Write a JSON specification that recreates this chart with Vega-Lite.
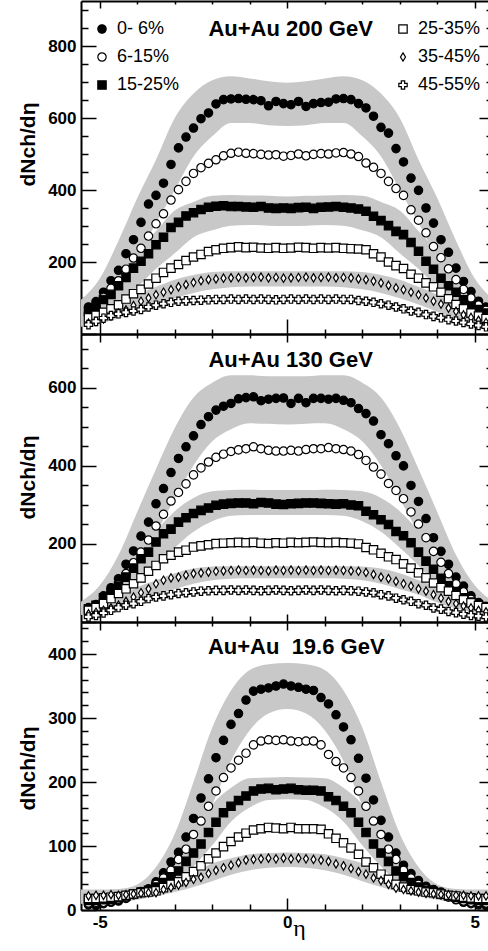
{
"$schema":"https://vega.github.io/schema/vega-lite/v6.json",
"background":"white",
"padding":{"left":17,"top":0,"right":0,"bottom":0},
"config":{"view":{"stroke":null},"font":"Liberation Sans"},
"datasets":{
"d200":[
{"c":"0- 6%","e":-5.3,"v":75},{"c":"0- 6%","e":-5.1,"v":90},{"c":"0- 6%","e":-4.9,"v":116},{"c":"0- 6%","e":-4.7,"v":148},{"c":"0- 6%","e":-4.5,"v":177},{"c":"0- 6%","e":-4.3,"v":223},{"c":"0- 6%","e":-4.1,"v":262},{"c":"0- 6%","e":-3.9,"v":310},{"c":"0- 6%","e":-3.7,"v":361},{"c":"0- 6%","e":-3.5,"v":385},{"c":"0- 6%","e":-3.3,"v":419},{"c":"0- 6%","e":-3.1,"v":471},{"c":"0- 6%","e":-2.9,"v":517},{"c":"0- 6%","e":-2.7,"v":547},{"c":"0- 6%","e":-2.5,"v":572},{"c":"0- 6%","e":-2.3,"v":598},{"c":"0- 6%","e":-2.1,"v":614},{"c":"0- 6%","e":-1.9,"v":639},{"c":"0- 6%","e":-1.7,"v":651},{"c":"0- 6%","e":-1.5,"v":653},{"c":"0- 6%","e":-1.3,"v":654},{"c":"0- 6%","e":-1.1,"v":652},{"c":"0- 6%","e":-0.9,"v":651},{"c":"0- 6%","e":-0.7,"v":648},{"c":"0- 6%","e":-0.5,"v":634},{"c":"0- 6%","e":-0.3,"v":646},{"c":"0- 6%","e":-0.1,"v":640},{"c":"0- 6%","e":0.1,"v":637},{"c":"0- 6%","e":0.3,"v":646},{"c":"0- 6%","e":0.5,"v":632},{"c":"0- 6%","e":0.7,"v":640},{"c":"0- 6%","e":0.9,"v":643},{"c":"0- 6%","e":1.1,"v":644},{"c":"0- 6%","e":1.3,"v":653},{"c":"0- 6%","e":1.5,"v":654},{"c":"0- 6%","e":1.7,"v":651},{"c":"0- 6%","e":1.9,"v":640},{"c":"0- 6%","e":2.1,"v":628},{"c":"0- 6%","e":2.3,"v":605},{"c":"0- 6%","e":2.5,"v":574},{"c":"0- 6%","e":2.7,"v":558},{"c":"0- 6%","e":2.9,"v":515},{"c":"0- 6%","e":3.1,"v":478},{"c":"0- 6%","e":3.3,"v":433},{"c":"0- 6%","e":3.5,"v":399},{"c":"0- 6%","e":3.7,"v":350},{"c":"0- 6%","e":3.9,"v":308},{"c":"0- 6%","e":4.1,"v":262},{"c":"0- 6%","e":4.3,"v":227},{"c":"0- 6%","e":4.5,"v":183},{"c":"0- 6%","e":4.7,"v":146},{"c":"0- 6%","e":4.9,"v":118},{"c":"0- 6%","e":5.1,"v":91},{"c":"0- 6%","e":5.3,"v":75},
{"c":"6-15%","e":-5.3,"v":58},{"c":"6-15%","e":-5.1,"v":74},{"c":"6-15%","e":-4.9,"v":102},{"c":"6-15%","e":-4.7,"v":127},{"c":"6-15%","e":-4.5,"v":148},{"c":"6-15%","e":-4.3,"v":180},{"c":"6-15%","e":-4.1,"v":211},{"c":"6-15%","e":-3.9,"v":238},{"c":"6-15%","e":-3.7,"v":272},{"c":"6-15%","e":-3.5,"v":306},{"c":"6-15%","e":-3.3,"v":334},{"c":"6-15%","e":-3.1,"v":372},{"c":"6-15%","e":-2.9,"v":401},{"c":"6-15%","e":-2.7,"v":424},{"c":"6-15%","e":-2.5,"v":446},{"c":"6-15%","e":-2.3,"v":462},{"c":"6-15%","e":-2.1,"v":474},{"c":"6-15%","e":-1.9,"v":484},{"c":"6-15%","e":-1.7,"v":495},{"c":"6-15%","e":-1.5,"v":502},{"c":"6-15%","e":-1.3,"v":505},{"c":"6-15%","e":-1.1,"v":502},{"c":"6-15%","e":-0.9,"v":501},{"c":"6-15%","e":-0.7,"v":499},{"c":"6-15%","e":-0.5,"v":497},{"c":"6-15%","e":-0.3,"v":498},{"c":"6-15%","e":-0.1,"v":494},{"c":"6-15%","e":0.1,"v":496},{"c":"6-15%","e":0.3,"v":500},{"c":"6-15%","e":0.5,"v":495},{"c":"6-15%","e":0.7,"v":499},{"c":"6-15%","e":0.9,"v":501},{"c":"6-15%","e":1.1,"v":500},{"c":"6-15%","e":1.3,"v":503},{"c":"6-15%","e":1.5,"v":504},{"c":"6-15%","e":1.7,"v":500},{"c":"6-15%","e":1.9,"v":493},{"c":"6-15%","e":2.1,"v":475},{"c":"6-15%","e":2.3,"v":463},{"c":"6-15%","e":2.5,"v":446},{"c":"6-15%","e":2.7,"v":424},{"c":"6-15%","e":2.9,"v":404},{"c":"6-15%","e":3.1,"v":385},{"c":"6-15%","e":3.3,"v":345},{"c":"6-15%","e":3.5,"v":316},{"c":"6-15%","e":3.7,"v":281},{"c":"6-15%","e":3.9,"v":243},{"c":"6-15%","e":4.1,"v":212},{"c":"6-15%","e":4.3,"v":181},{"c":"6-15%","e":4.5,"v":151},{"c":"6-15%","e":4.7,"v":124},{"c":"6-15%","e":4.9,"v":100},{"c":"6-15%","e":5.1,"v":80},{"c":"6-15%","e":5.3,"v":66},
{"c":"15-25%","e":-5.3,"v":62},{"c":"15-25%","e":-5.1,"v":74},{"c":"15-25%","e":-4.9,"v":96},{"c":"15-25%","e":-4.7,"v":110},{"c":"15-25%","e":-4.5,"v":134},{"c":"15-25%","e":-4.3,"v":157},{"c":"15-25%","e":-4.1,"v":183},{"c":"15-25%","e":-3.9,"v":202},{"c":"15-25%","e":-3.7,"v":223},{"c":"15-25%","e":-3.5,"v":248},{"c":"15-25%","e":-3.3,"v":269},{"c":"15-25%","e":-3.1,"v":296},{"c":"15-25%","e":-2.9,"v":310},{"c":"15-25%","e":-2.7,"v":328},{"c":"15-25%","e":-2.5,"v":337},{"c":"15-25%","e":-2.3,"v":346},{"c":"15-25%","e":-2.1,"v":352},{"c":"15-25%","e":-1.9,"v":355},{"c":"15-25%","e":-1.7,"v":356},{"c":"15-25%","e":-1.5,"v":354},{"c":"15-25%","e":-1.3,"v":354},{"c":"15-25%","e":-1.1,"v":353},{"c":"15-25%","e":-0.9,"v":352},{"c":"15-25%","e":-0.7,"v":354},{"c":"15-25%","e":-0.5,"v":350},{"c":"15-25%","e":-0.3,"v":349},{"c":"15-25%","e":-0.1,"v":350},{"c":"15-25%","e":0.1,"v":349},{"c":"15-25%","e":0.3,"v":351},{"c":"15-25%","e":0.5,"v":352},{"c":"15-25%","e":0.7,"v":349},{"c":"15-25%","e":0.9,"v":352},{"c":"15-25%","e":1.1,"v":353},{"c":"15-25%","e":1.3,"v":354},{"c":"15-25%","e":1.5,"v":352},{"c":"15-25%","e":1.7,"v":350},{"c":"15-25%","e":1.9,"v":347},{"c":"15-25%","e":2.1,"v":341},{"c":"15-25%","e":2.3,"v":327},{"c":"15-25%","e":2.5,"v":315},{"c":"15-25%","e":2.7,"v":301},{"c":"15-25%","e":2.9,"v":285},{"c":"15-25%","e":3.1,"v":276},{"c":"15-25%","e":3.3,"v":254},{"c":"15-25%","e":3.5,"v":230},{"c":"15-25%","e":3.7,"v":202},{"c":"15-25%","e":3.9,"v":180},{"c":"15-25%","e":4.1,"v":155},{"c":"15-25%","e":4.3,"v":134},{"c":"15-25%","e":4.5,"v":116},{"c":"15-25%","e":4.7,"v":95},{"c":"15-25%","e":4.9,"v":77},{"c":"15-25%","e":5.1,"v":68},{"c":"15-25%","e":5.3,"v":58},
{"c":"25-35%","e":-5.3,"v":45},{"c":"25-35%","e":-5.1,"v":52},{"c":"25-35%","e":-4.9,"v":60},{"c":"25-35%","e":-4.7,"v":70},{"c":"25-35%","e":-4.5,"v":81},{"c":"25-35%","e":-4.3,"v":97},{"c":"25-35%","e":-4.1,"v":112},{"c":"25-35%","e":-3.9,"v":124},{"c":"25-35%","e":-3.7,"v":139},{"c":"25-35%","e":-3.5,"v":155},{"c":"25-35%","e":-3.3,"v":171},{"c":"25-35%","e":-3.1,"v":183},{"c":"25-35%","e":-2.9,"v":193},{"c":"25-35%","e":-2.7,"v":204},{"c":"25-35%","e":-2.5,"v":214},{"c":"25-35%","e":-2.3,"v":221},{"c":"25-35%","e":-2.1,"v":229},{"c":"25-35%","e":-1.9,"v":234},{"c":"25-35%","e":-1.7,"v":238},{"c":"25-35%","e":-1.5,"v":240},{"c":"25-35%","e":-1.3,"v":242},{"c":"25-35%","e":-1.1,"v":240},{"c":"25-35%","e":-0.9,"v":241},{"c":"25-35%","e":-0.7,"v":239},{"c":"25-35%","e":-0.5,"v":238},{"c":"25-35%","e":-0.3,"v":240},{"c":"25-35%","e":-0.1,"v":238},{"c":"25-35%","e":0.1,"v":239},{"c":"25-35%","e":0.3,"v":241},{"c":"25-35%","e":0.5,"v":240},{"c":"25-35%","e":0.7,"v":238},{"c":"25-35%","e":0.9,"v":240},{"c":"25-35%","e":1.1,"v":239},{"c":"25-35%","e":1.3,"v":240},{"c":"25-35%","e":1.5,"v":238},{"c":"25-35%","e":1.7,"v":237},{"c":"25-35%","e":1.9,"v":236},{"c":"25-35%","e":2.1,"v":234},{"c":"25-35%","e":2.3,"v":223},{"c":"25-35%","e":2.5,"v":214},{"c":"25-35%","e":2.7,"v":200},{"c":"25-35%","e":2.9,"v":190},{"c":"25-35%","e":3.1,"v":182},{"c":"25-35%","e":3.3,"v":166},{"c":"25-35%","e":3.5,"v":155},{"c":"25-35%","e":3.7,"v":142},{"c":"25-35%","e":3.9,"v":131},{"c":"25-35%","e":4.1,"v":116},{"c":"25-35%","e":4.3,"v":98},{"c":"25-35%","e":4.5,"v":82},{"c":"25-35%","e":4.7,"v":70},{"c":"25-35%","e":4.9,"v":58},{"c":"25-35%","e":5.1,"v":50},{"c":"25-35%","e":5.3,"v":43},
{"c":"35-45%","e":-5.3,"v":30},{"c":"35-45%","e":-5.1,"v":35},{"c":"35-45%","e":-4.9,"v":42},{"c":"35-45%","e":-4.7,"v":50},{"c":"35-45%","e":-4.5,"v":58},{"c":"35-45%","e":-4.3,"v":67},{"c":"35-45%","e":-4.1,"v":79},{"c":"35-45%","e":-3.9,"v":91},{"c":"35-45%","e":-3.7,"v":100},{"c":"35-45%","e":-3.5,"v":109},{"c":"35-45%","e":-3.3,"v":116},{"c":"35-45%","e":-3.1,"v":123},{"c":"35-45%","e":-2.9,"v":131},{"c":"35-45%","e":-2.7,"v":137},{"c":"35-45%","e":-2.5,"v":143},{"c":"35-45%","e":-2.3,"v":148},{"c":"35-45%","e":-2.1,"v":151},{"c":"35-45%","e":-1.9,"v":153},{"c":"35-45%","e":-1.7,"v":155},{"c":"35-45%","e":-1.5,"v":156},{"c":"35-45%","e":-1.3,"v":157},{"c":"35-45%","e":-1.1,"v":156},{"c":"35-45%","e":-0.9,"v":157},{"c":"35-45%","e":-0.7,"v":158},{"c":"35-45%","e":-0.5,"v":156},{"c":"35-45%","e":-0.3,"v":157},{"c":"35-45%","e":-0.1,"v":155},{"c":"35-45%","e":0.1,"v":156},{"c":"35-45%","e":0.3,"v":157},{"c":"35-45%","e":0.5,"v":158},{"c":"35-45%","e":0.7,"v":156},{"c":"35-45%","e":0.9,"v":157},{"c":"35-45%","e":1.1,"v":158},{"c":"35-45%","e":1.3,"v":156},{"c":"35-45%","e":1.5,"v":157},{"c":"35-45%","e":1.7,"v":156},{"c":"35-45%","e":1.9,"v":153},{"c":"35-45%","e":2.1,"v":151},{"c":"35-45%","e":2.3,"v":147},{"c":"35-45%","e":2.5,"v":142},{"c":"35-45%","e":2.7,"v":135},{"c":"35-45%","e":2.9,"v":128},{"c":"35-45%","e":3.1,"v":123},{"c":"35-45%","e":3.3,"v":116},{"c":"35-45%","e":3.5,"v":109},{"c":"35-45%","e":3.7,"v":100},{"c":"35-45%","e":3.9,"v":91},{"c":"35-45%","e":4.1,"v":83},{"c":"35-45%","e":4.3,"v":72},{"c":"35-45%","e":4.5,"v":63},{"c":"35-45%","e":4.7,"v":53},{"c":"35-45%","e":4.9,"v":46},{"c":"35-45%","e":5.1,"v":38},{"c":"35-45%","e":5.3,"v":32},
{"c":"45-55%","e":-5.3,"v":26},{"c":"45-55%","e":-5.1,"v":35},{"c":"45-55%","e":-4.9,"v":44},{"c":"45-55%","e":-4.7,"v":51},{"c":"45-55%","e":-4.5,"v":56},{"c":"45-55%","e":-4.3,"v":60},{"c":"45-55%","e":-4.1,"v":64},{"c":"45-55%","e":-3.9,"v":68},{"c":"45-55%","e":-3.7,"v":75},{"c":"45-55%","e":-3.5,"v":80},{"c":"45-55%","e":-3.3,"v":84},{"c":"45-55%","e":-3.1,"v":88},{"c":"45-55%","e":-2.9,"v":91},{"c":"45-55%","e":-2.7,"v":92},{"c":"45-55%","e":-2.5,"v":93},{"c":"45-55%","e":-2.3,"v":94},{"c":"45-55%","e":-2.1,"v":95},{"c":"45-55%","e":-1.9,"v":96},{"c":"45-55%","e":-1.7,"v":96},{"c":"45-55%","e":-1.5,"v":97},{"c":"45-55%","e":-1.3,"v":96},{"c":"45-55%","e":-1.1,"v":97},{"c":"45-55%","e":-0.9,"v":96},{"c":"45-55%","e":-0.7,"v":97},{"c":"45-55%","e":-0.5,"v":96},{"c":"45-55%","e":-0.3,"v":95},{"c":"45-55%","e":-0.1,"v":96},{"c":"45-55%","e":0.1,"v":97},{"c":"45-55%","e":0.3,"v":96},{"c":"45-55%","e":0.5,"v":97},{"c":"45-55%","e":0.7,"v":96},{"c":"45-55%","e":0.9,"v":97},{"c":"45-55%","e":1.1,"v":96},{"c":"45-55%","e":1.3,"v":97},{"c":"45-55%","e":1.5,"v":96},{"c":"45-55%","e":1.7,"v":96},{"c":"45-55%","e":1.9,"v":93},{"c":"45-55%","e":2.1,"v":91},{"c":"45-55%","e":2.3,"v":88},{"c":"45-55%","e":2.5,"v":84},{"c":"45-55%","e":2.7,"v":80},{"c":"45-55%","e":2.9,"v":75},{"c":"45-55%","e":3.1,"v":70},{"c":"45-55%","e":3.3,"v":64},{"c":"45-55%","e":3.5,"v":60},{"c":"45-55%","e":3.7,"v":54},{"c":"45-55%","e":3.9,"v":49},{"c":"45-55%","e":4.1,"v":45},{"c":"45-55%","e":4.3,"v":40},{"c":"45-55%","e":4.5,"v":36},{"c":"45-55%","e":4.7,"v":32},{"c":"45-55%","e":4.9,"v":28},{"c":"45-55%","e":5.1,"v":24},{"c":"45-55%","e":5.3,"v":20}
],
"d130":[
{"c":"0- 6%","e":-5.3,"v":37},{"c":"0- 6%","e":-5.1,"v":45},{"c":"0- 6%","e":-4.9,"v":67},{"c":"0- 6%","e":-4.7,"v":88},{"c":"0- 6%","e":-4.5,"v":111},{"c":"0- 6%","e":-4.3,"v":148},{"c":"0- 6%","e":-4.1,"v":182},{"c":"0- 6%","e":-3.9,"v":220},{"c":"0- 6%","e":-3.7,"v":256},{"c":"0- 6%","e":-3.5,"v":303},{"c":"0- 6%","e":-3.3,"v":342},{"c":"0- 6%","e":-3.1,"v":383},{"c":"0- 6%","e":-2.9,"v":419},{"c":"0- 6%","e":-2.7,"v":449},{"c":"0- 6%","e":-2.5,"v":477},{"c":"0- 6%","e":-2.3,"v":506},{"c":"0- 6%","e":-2.1,"v":526},{"c":"0- 6%","e":-1.9,"v":543},{"c":"0- 6%","e":-1.7,"v":553},{"c":"0- 6%","e":-1.5,"v":560},{"c":"0- 6%","e":-1.3,"v":572},{"c":"0- 6%","e":-1.1,"v":575},{"c":"0- 6%","e":-0.9,"v":577},{"c":"0- 6%","e":-0.7,"v":567},{"c":"0- 6%","e":-0.5,"v":571},{"c":"0- 6%","e":-0.3,"v":573},{"c":"0- 6%","e":-0.1,"v":574},{"c":"0- 6%","e":0.1,"v":560},{"c":"0- 6%","e":0.3,"v":573},{"c":"0- 6%","e":0.5,"v":562},{"c":"0- 6%","e":0.7,"v":573},{"c":"0- 6%","e":0.9,"v":573},{"c":"0- 6%","e":1.1,"v":571},{"c":"0- 6%","e":1.3,"v":573},{"c":"0- 6%","e":1.5,"v":568},{"c":"0- 6%","e":1.7,"v":562},{"c":"0- 6%","e":1.9,"v":547},{"c":"0- 6%","e":2.1,"v":534},{"c":"0- 6%","e":2.3,"v":515},{"c":"0- 6%","e":2.5,"v":480},{"c":"0- 6%","e":2.7,"v":457},{"c":"0- 6%","e":2.9,"v":426},{"c":"0- 6%","e":3.1,"v":400},{"c":"0- 6%","e":3.3,"v":350},{"c":"0- 6%","e":3.5,"v":309},{"c":"0- 6%","e":3.7,"v":265},{"c":"0- 6%","e":3.9,"v":216},{"c":"0- 6%","e":4.1,"v":181},{"c":"0- 6%","e":4.3,"v":148},{"c":"0- 6%","e":4.5,"v":115},{"c":"0- 6%","e":4.7,"v":92},{"c":"0- 6%","e":4.9,"v":67},{"c":"0- 6%","e":5.1,"v":50},{"c":"0- 6%","e":5.3,"v":40},
{"c":"6-15%","e":-5.3,"v":33},{"c":"6-15%","e":-5.1,"v":42},{"c":"6-15%","e":-4.9,"v":58},{"c":"6-15%","e":-4.7,"v":75},{"c":"6-15%","e":-4.5,"v":96},{"c":"6-15%","e":-4.3,"v":124},{"c":"6-15%","e":-4.1,"v":152},{"c":"6-15%","e":-3.9,"v":179},{"c":"6-15%","e":-3.7,"v":210},{"c":"6-15%","e":-3.5,"v":246},{"c":"6-15%","e":-3.3,"v":276},{"c":"6-15%","e":-3.1,"v":310},{"c":"6-15%","e":-2.9,"v":332},{"c":"6-15%","e":-2.7,"v":354},{"c":"6-15%","e":-2.5,"v":377},{"c":"6-15%","e":-2.3,"v":395},{"c":"6-15%","e":-2.1,"v":410},{"c":"6-15%","e":-1.9,"v":422},{"c":"6-15%","e":-1.7,"v":430},{"c":"6-15%","e":-1.5,"v":437},{"c":"6-15%","e":-1.3,"v":441},{"c":"6-15%","e":-1.1,"v":444},{"c":"6-15%","e":-0.9,"v":449},{"c":"6-15%","e":-0.7,"v":444},{"c":"6-15%","e":-0.5,"v":440},{"c":"6-15%","e":-0.3,"v":438},{"c":"6-15%","e":-0.1,"v":438},{"c":"6-15%","e":0.1,"v":440},{"c":"6-15%","e":0.3,"v":438},{"c":"6-15%","e":0.5,"v":442},{"c":"6-15%","e":0.7,"v":444},{"c":"6-15%","e":0.9,"v":444},{"c":"6-15%","e":1.1,"v":447},{"c":"6-15%","e":1.3,"v":444},{"c":"6-15%","e":1.5,"v":442},{"c":"6-15%","e":1.7,"v":438},{"c":"6-15%","e":1.9,"v":429},{"c":"6-15%","e":2.1,"v":414},{"c":"6-15%","e":2.3,"v":397},{"c":"6-15%","e":2.5,"v":379},{"c":"6-15%","e":2.7,"v":355},{"c":"6-15%","e":2.9,"v":337},{"c":"6-15%","e":3.1,"v":316},{"c":"6-15%","e":3.3,"v":282},{"c":"6-15%","e":3.5,"v":251},{"c":"6-15%","e":3.7,"v":216},{"c":"6-15%","e":3.9,"v":181},{"c":"6-15%","e":4.1,"v":153},{"c":"6-15%","e":4.3,"v":124},{"c":"6-15%","e":4.5,"v":98},{"c":"6-15%","e":4.7,"v":77},{"c":"6-15%","e":4.9,"v":58},{"c":"6-15%","e":5.1,"v":43},{"c":"6-15%","e":5.3,"v":35},
{"c":"15-25%","e":-5.3,"v":34},{"c":"15-25%","e":-5.1,"v":43},{"c":"15-25%","e":-4.9,"v":62},{"c":"15-25%","e":-4.7,"v":75},{"c":"15-25%","e":-4.5,"v":92},{"c":"15-25%","e":-4.3,"v":115},{"c":"15-25%","e":-4.1,"v":138},{"c":"15-25%","e":-3.9,"v":162},{"c":"15-25%","e":-3.7,"v":179},{"c":"15-25%","e":-3.5,"v":205},{"c":"15-25%","e":-3.3,"v":226},{"c":"15-25%","e":-3.1,"v":238},{"c":"15-25%","e":-2.9,"v":256},{"c":"15-25%","e":-2.7,"v":267},{"c":"15-25%","e":-2.5,"v":278},{"c":"15-25%","e":-2.3,"v":286},{"c":"15-25%","e":-2.1,"v":292},{"c":"15-25%","e":-1.9,"v":299},{"c":"15-25%","e":-1.7,"v":302},{"c":"15-25%","e":-1.5,"v":304},{"c":"15-25%","e":-1.3,"v":305},{"c":"15-25%","e":-1.1,"v":305},{"c":"15-25%","e":-0.9,"v":303},{"c":"15-25%","e":-0.7,"v":306},{"c":"15-25%","e":-0.5,"v":305},{"c":"15-25%","e":-0.3,"v":302},{"c":"15-25%","e":-0.1,"v":301},{"c":"15-25%","e":0.1,"v":303},{"c":"15-25%","e":0.3,"v":304},{"c":"15-25%","e":0.5,"v":305},{"c":"15-25%","e":0.7,"v":305},{"c":"15-25%","e":0.9,"v":304},{"c":"15-25%","e":1.1,"v":303},{"c":"15-25%","e":1.3,"v":302},{"c":"15-25%","e":1.5,"v":303},{"c":"15-25%","e":1.7,"v":300},{"c":"15-25%","e":1.9,"v":298},{"c":"15-25%","e":2.1,"v":284},{"c":"15-25%","e":2.3,"v":275},{"c":"15-25%","e":2.5,"v":262},{"c":"15-25%","e":2.7,"v":250},{"c":"15-25%","e":2.9,"v":232},{"c":"15-25%","e":3.1,"v":221},{"c":"15-25%","e":3.3,"v":203},{"c":"15-25%","e":3.5,"v":179},{"c":"15-25%","e":3.7,"v":156},{"c":"15-25%","e":3.9,"v":135},{"c":"15-25%","e":4.1,"v":112},{"c":"15-25%","e":4.3,"v":93},{"c":"15-25%","e":4.5,"v":78},{"c":"15-25%","e":4.7,"v":62},{"c":"15-25%","e":4.9,"v":51},{"c":"15-25%","e":5.1,"v":43},{"c":"15-25%","e":5.3,"v":38},
{"c":"25-35%","e":-5.3,"v":30},{"c":"25-35%","e":-5.1,"v":37},{"c":"25-35%","e":-4.9,"v":47},{"c":"25-35%","e":-4.7,"v":60},{"c":"25-35%","e":-4.5,"v":73},{"c":"25-35%","e":-4.3,"v":85},{"c":"25-35%","e":-4.1,"v":98},{"c":"25-35%","e":-3.9,"v":113},{"c":"25-35%","e":-3.7,"v":130},{"c":"25-35%","e":-3.5,"v":145},{"c":"25-35%","e":-3.3,"v":162},{"c":"25-35%","e":-3.1,"v":171},{"c":"25-35%","e":-2.9,"v":179},{"c":"25-35%","e":-2.7,"v":184},{"c":"25-35%","e":-2.5,"v":192},{"c":"25-35%","e":-2.3,"v":195},{"c":"25-35%","e":-2.1,"v":198},{"c":"25-35%","e":-1.9,"v":201},{"c":"25-35%","e":-1.7,"v":202},{"c":"25-35%","e":-1.5,"v":203},{"c":"25-35%","e":-1.3,"v":204},{"c":"25-35%","e":-1.1,"v":203},{"c":"25-35%","e":-0.9,"v":204},{"c":"25-35%","e":-0.7,"v":202},{"c":"25-35%","e":-0.5,"v":201},{"c":"25-35%","e":-0.3,"v":203},{"c":"25-35%","e":-0.1,"v":202},{"c":"25-35%","e":0.1,"v":204},{"c":"25-35%","e":0.3,"v":203},{"c":"25-35%","e":0.5,"v":204},{"c":"25-35%","e":0.7,"v":205},{"c":"25-35%","e":0.9,"v":204},{"c":"25-35%","e":1.1,"v":203},{"c":"25-35%","e":1.3,"v":204},{"c":"25-35%","e":1.5,"v":203},{"c":"25-35%","e":1.7,"v":202},{"c":"25-35%","e":1.9,"v":200},{"c":"25-35%","e":2.1,"v":191},{"c":"25-35%","e":2.3,"v":185},{"c":"25-35%","e":2.5,"v":176},{"c":"25-35%","e":2.7,"v":167},{"c":"25-35%","e":2.9,"v":160},{"c":"25-35%","e":3.1,"v":149},{"c":"25-35%","e":3.3,"v":138},{"c":"25-35%","e":3.5,"v":126},{"c":"25-35%","e":3.7,"v":113},{"c":"25-35%","e":3.9,"v":100},{"c":"25-35%","e":4.1,"v":88},{"c":"25-35%","e":4.3,"v":79},{"c":"25-35%","e":4.5,"v":68},{"c":"25-35%","e":4.7,"v":57},{"c":"25-35%","e":4.9,"v":49},{"c":"25-35%","e":5.1,"v":42},{"c":"25-35%","e":5.3,"v":37},
{"c":"35-45%","e":-5.3,"v":21},{"c":"35-45%","e":-5.1,"v":25},{"c":"35-45%","e":-4.9,"v":30},{"c":"35-45%","e":-4.7,"v":36},{"c":"35-45%","e":-4.5,"v":43},{"c":"35-45%","e":-4.3,"v":53},{"c":"35-45%","e":-4.1,"v":64},{"c":"35-45%","e":-3.9,"v":75},{"c":"35-45%","e":-3.7,"v":85},{"c":"35-45%","e":-3.5,"v":98},{"c":"35-45%","e":-3.3,"v":107},{"c":"35-45%","e":-3.1,"v":113},{"c":"35-45%","e":-2.9,"v":115},{"c":"35-45%","e":-2.7,"v":120},{"c":"35-45%","e":-2.5,"v":124},{"c":"35-45%","e":-2.3,"v":126},{"c":"35-45%","e":-2.1,"v":128},{"c":"35-45%","e":-1.9,"v":130},{"c":"35-45%","e":-1.7,"v":131},{"c":"35-45%","e":-1.5,"v":132},{"c":"35-45%","e":-1.3,"v":133},{"c":"35-45%","e":-1.1,"v":132},{"c":"35-45%","e":-0.9,"v":133},{"c":"35-45%","e":-0.7,"v":132},{"c":"35-45%","e":-0.5,"v":131},{"c":"35-45%","e":-0.3,"v":133},{"c":"35-45%","e":-0.1,"v":132},{"c":"35-45%","e":0.1,"v":133},{"c":"35-45%","e":0.3,"v":132},{"c":"35-45%","e":0.5,"v":133},{"c":"35-45%","e":0.7,"v":132},{"c":"35-45%","e":0.9,"v":133},{"c":"35-45%","e":1.1,"v":132},{"c":"35-45%","e":1.3,"v":133},{"c":"35-45%","e":1.5,"v":132},{"c":"35-45%","e":1.7,"v":131},{"c":"35-45%","e":1.9,"v":130},{"c":"35-45%","e":2.1,"v":127},{"c":"35-45%","e":2.3,"v":122},{"c":"35-45%","e":2.5,"v":115},{"c":"35-45%","e":2.7,"v":111},{"c":"35-45%","e":2.9,"v":104},{"c":"35-45%","e":3.1,"v":98},{"c":"35-45%","e":3.3,"v":92},{"c":"35-45%","e":3.5,"v":85},{"c":"35-45%","e":3.7,"v":79},{"c":"35-45%","e":3.9,"v":70},{"c":"35-45%","e":4.1,"v":61},{"c":"35-45%","e":4.3,"v":53},{"c":"35-45%","e":4.5,"v":47},{"c":"35-45%","e":4.7,"v":41},{"c":"35-45%","e":4.9,"v":36},{"c":"35-45%","e":5.1,"v":30},{"c":"35-45%","e":5.3,"v":26},
{"c":"45-55%","e":-5.3,"v":13},{"c":"45-55%","e":-5.1,"v":17},{"c":"45-55%","e":-4.9,"v":23},{"c":"45-55%","e":-4.7,"v":30},{"c":"45-55%","e":-4.5,"v":37},{"c":"45-55%","e":-4.3,"v":43},{"c":"45-55%","e":-4.1,"v":47},{"c":"45-55%","e":-3.9,"v":53},{"c":"45-55%","e":-3.7,"v":60},{"c":"45-55%","e":-3.5,"v":64},{"c":"45-55%","e":-3.3,"v":67},{"c":"45-55%","e":-3.1,"v":70},{"c":"45-55%","e":-2.9,"v":73},{"c":"45-55%","e":-2.7,"v":75},{"c":"45-55%","e":-2.5,"v":77},{"c":"45-55%","e":-2.3,"v":79},{"c":"45-55%","e":-2.1,"v":80},{"c":"45-55%","e":-1.9,"v":81},{"c":"45-55%","e":-1.7,"v":81},{"c":"45-55%","e":-1.5,"v":82},{"c":"45-55%","e":-1.3,"v":81},{"c":"45-55%","e":-1.1,"v":82},{"c":"45-55%","e":-0.9,"v":81},{"c":"45-55%","e":-0.7,"v":80},{"c":"45-55%","e":-0.5,"v":81},{"c":"45-55%","e":-0.3,"v":82},{"c":"45-55%","e":-0.1,"v":81},{"c":"45-55%","e":0.1,"v":80},{"c":"45-55%","e":0.3,"v":81},{"c":"45-55%","e":0.5,"v":82},{"c":"45-55%","e":0.7,"v":81},{"c":"45-55%","e":0.9,"v":82},{"c":"45-55%","e":1.1,"v":81},{"c":"45-55%","e":1.3,"v":80},{"c":"45-55%","e":1.5,"v":81},{"c":"45-55%","e":1.7,"v":80},{"c":"45-55%","e":1.9,"v":79},{"c":"45-55%","e":2.1,"v":77},{"c":"45-55%","e":2.3,"v":75},{"c":"45-55%","e":2.5,"v":70},{"c":"45-55%","e":2.7,"v":67},{"c":"45-55%","e":2.9,"v":61},{"c":"45-55%","e":3.1,"v":57},{"c":"45-55%","e":3.3,"v":53},{"c":"45-55%","e":3.5,"v":47},{"c":"45-55%","e":3.7,"v":43},{"c":"45-55%","e":3.9,"v":36},{"c":"45-55%","e":4.1,"v":33},{"c":"45-55%","e":4.3,"v":27},{"c":"45-55%","e":4.5,"v":24},{"c":"45-55%","e":4.7,"v":20},{"c":"45-55%","e":4.9,"v":17},{"c":"45-55%","e":5.1,"v":15},{"c":"45-55%","e":5.3,"v":13}
],
"d196":[
{"c":"0- 6%","e":-5.3,"v":8},{"c":"0- 6%","e":-5.1,"v":7},{"c":"0- 6%","e":-4.9,"v":10},{"c":"0- 6%","e":-4.7,"v":12},{"c":"0- 6%","e":-4.5,"v":14},{"c":"0- 6%","e":-4.3,"v":18},{"c":"0- 6%","e":-4.1,"v":24},{"c":"0- 6%","e":-3.9,"v":29},{"c":"0- 6%","e":-3.7,"v":33},{"c":"0- 6%","e":-3.5,"v":44},{"c":"0- 6%","e":-3.3,"v":58},{"c":"0- 6%","e":-3.1,"v":75},{"c":"0- 6%","e":-2.9,"v":90},{"c":"0- 6%","e":-2.7,"v":114},{"c":"0- 6%","e":-2.5,"v":143},{"c":"0- 6%","e":-2.3,"v":175},{"c":"0- 6%","e":-2.1,"v":205},{"c":"0- 6%","e":-1.9,"v":238},{"c":"0- 6%","e":-1.7,"v":265},{"c":"0- 6%","e":-1.5,"v":290},{"c":"0- 6%","e":-1.3,"v":307},{"c":"0- 6%","e":-1.1,"v":328},{"c":"0- 6%","e":-0.9,"v":342},{"c":"0- 6%","e":-0.7,"v":345},{"c":"0- 6%","e":-0.5,"v":347},{"c":"0- 6%","e":-0.3,"v":350},{"c":"0- 6%","e":-0.1,"v":353},{"c":"0- 6%","e":0.1,"v":350},{"c":"0- 6%","e":0.3,"v":348},{"c":"0- 6%","e":0.5,"v":345},{"c":"0- 6%","e":0.7,"v":343},{"c":"0- 6%","e":0.9,"v":332},{"c":"0- 6%","e":1.1,"v":322},{"c":"0- 6%","e":1.3,"v":305},{"c":"0- 6%","e":1.5,"v":286},{"c":"0- 6%","e":1.7,"v":266},{"c":"0- 6%","e":1.9,"v":237},{"c":"0- 6%","e":2.1,"v":206},{"c":"0- 6%","e":2.3,"v":172},{"c":"0- 6%","e":2.5,"v":140},{"c":"0- 6%","e":2.7,"v":114},{"c":"0- 6%","e":2.9,"v":89},{"c":"0- 6%","e":3.1,"v":70},{"c":"0- 6%","e":3.3,"v":57},{"c":"0- 6%","e":3.5,"v":46},{"c":"0- 6%","e":3.7,"v":37},{"c":"0- 6%","e":3.9,"v":32},{"c":"0- 6%","e":4.1,"v":28},{"c":"0- 6%","e":4.3,"v":22},{"c":"0- 6%","e":4.5,"v":16},{"c":"0- 6%","e":4.7,"v":12},{"c":"0- 6%","e":4.9,"v":10},{"c":"0- 6%","e":5.1,"v":8},{"c":"0- 6%","e":5.3,"v":7},
{"c":"6-15%","e":-5.3,"v":11},{"c":"6-15%","e":-5.1,"v":12},{"c":"6-15%","e":-4.9,"v":12},{"c":"6-15%","e":-4.7,"v":14},{"c":"6-15%","e":-4.5,"v":17},{"c":"6-15%","e":-4.3,"v":20},{"c":"6-15%","e":-4.1,"v":24},{"c":"6-15%","e":-3.9,"v":28},{"c":"6-15%","e":-3.7,"v":32},{"c":"6-15%","e":-3.5,"v":40},{"c":"6-15%","e":-3.3,"v":50},{"c":"6-15%","e":-3.1,"v":62},{"c":"6-15%","e":-2.9,"v":79},{"c":"6-15%","e":-2.7,"v":95},{"c":"6-15%","e":-2.5,"v":118},{"c":"6-15%","e":-2.3,"v":139},{"c":"6-15%","e":-2.1,"v":162},{"c":"6-15%","e":-1.9,"v":186},{"c":"6-15%","e":-1.7,"v":207},{"c":"6-15%","e":-1.5,"v":222},{"c":"6-15%","e":-1.3,"v":234},{"c":"6-15%","e":-1.1,"v":245},{"c":"6-15%","e":-0.9,"v":258},{"c":"6-15%","e":-0.7,"v":264},{"c":"6-15%","e":-0.5,"v":266},{"c":"6-15%","e":-0.3,"v":265},{"c":"6-15%","e":-0.1,"v":266},{"c":"6-15%","e":0.1,"v":264},{"c":"6-15%","e":0.3,"v":263},{"c":"6-15%","e":0.5,"v":264},{"c":"6-15%","e":0.7,"v":264},{"c":"6-15%","e":0.9,"v":258},{"c":"6-15%","e":1.1,"v":243},{"c":"6-15%","e":1.3,"v":232},{"c":"6-15%","e":1.5,"v":222},{"c":"6-15%","e":1.7,"v":207},{"c":"6-15%","e":1.9,"v":186},{"c":"6-15%","e":2.1,"v":162},{"c":"6-15%","e":2.3,"v":139},{"c":"6-15%","e":2.5,"v":118},{"c":"6-15%","e":2.7,"v":95},{"c":"6-15%","e":2.9,"v":79},{"c":"6-15%","e":3.1,"v":62},{"c":"6-15%","e":3.3,"v":50},{"c":"6-15%","e":3.5,"v":40},{"c":"6-15%","e":3.7,"v":33},{"c":"6-15%","e":3.9,"v":28},{"c":"6-15%","e":4.1,"v":24},{"c":"6-15%","e":4.3,"v":20},{"c":"6-15%","e":4.5,"v":17},{"c":"6-15%","e":4.7,"v":14},{"c":"6-15%","e":4.9,"v":12},{"c":"6-15%","e":5.1,"v":12},{"c":"6-15%","e":5.3,"v":11},
{"c":"15-25%","e":-5.3,"v":15},{"c":"15-25%","e":-5.1,"v":15},{"c":"15-25%","e":-4.9,"v":16},{"c":"15-25%","e":-4.7,"v":17},{"c":"15-25%","e":-4.5,"v":19},{"c":"15-25%","e":-4.3,"v":22},{"c":"15-25%","e":-4.1,"v":25},{"c":"15-25%","e":-3.9,"v":28},{"c":"15-25%","e":-3.7,"v":31},{"c":"15-25%","e":-3.5,"v":36},{"c":"15-25%","e":-3.3,"v":43},{"c":"15-25%","e":-3.1,"v":52},{"c":"15-25%","e":-2.9,"v":61},{"c":"15-25%","e":-2.7,"v":76},{"c":"15-25%","e":-2.5,"v":89},{"c":"15-25%","e":-2.3,"v":103},{"c":"15-25%","e":-2.1,"v":121},{"c":"15-25%","e":-1.9,"v":137},{"c":"15-25%","e":-1.7,"v":152},{"c":"15-25%","e":-1.5,"v":162},{"c":"15-25%","e":-1.3,"v":171},{"c":"15-25%","e":-1.1,"v":178},{"c":"15-25%","e":-0.9,"v":186},{"c":"15-25%","e":-0.7,"v":189},{"c":"15-25%","e":-0.5,"v":190},{"c":"15-25%","e":-0.3,"v":188},{"c":"15-25%","e":-0.1,"v":189},{"c":"15-25%","e":0.1,"v":190},{"c":"15-25%","e":0.3,"v":188},{"c":"15-25%","e":0.5,"v":187},{"c":"15-25%","e":0.7,"v":187},{"c":"15-25%","e":0.9,"v":186},{"c":"15-25%","e":1.1,"v":177},{"c":"15-25%","e":1.3,"v":171},{"c":"15-25%","e":1.5,"v":162},{"c":"15-25%","e":1.7,"v":152},{"c":"15-25%","e":1.9,"v":137},{"c":"15-25%","e":2.1,"v":121},{"c":"15-25%","e":2.3,"v":103},{"c":"15-25%","e":2.5,"v":89},{"c":"15-25%","e":2.7,"v":76},{"c":"15-25%","e":2.9,"v":61},{"c":"15-25%","e":3.1,"v":52},{"c":"15-25%","e":3.3,"v":43},{"c":"15-25%","e":3.5,"v":36},{"c":"15-25%","e":3.7,"v":31},{"c":"15-25%","e":3.9,"v":29},{"c":"15-25%","e":4.1,"v":25},{"c":"15-25%","e":4.3,"v":22},{"c":"15-25%","e":4.5,"v":20},{"c":"15-25%","e":4.7,"v":18},{"c":"15-25%","e":4.9,"v":16},{"c":"15-25%","e":5.1,"v":15},{"c":"15-25%","e":5.3,"v":15},
{"c":"25-35%","e":-5.3,"v":18},{"c":"25-35%","e":-5.1,"v":18},{"c":"25-35%","e":-4.9,"v":19},{"c":"25-35%","e":-4.7,"v":20},{"c":"25-35%","e":-4.5,"v":21},{"c":"25-35%","e":-4.3,"v":23},{"c":"25-35%","e":-4.1,"v":25},{"c":"25-35%","e":-3.9,"v":27},{"c":"25-35%","e":-3.7,"v":28},{"c":"25-35%","e":-3.5,"v":30},{"c":"25-35%","e":-3.3,"v":35},{"c":"25-35%","e":-3.1,"v":40},{"c":"25-35%","e":-2.9,"v":44},{"c":"25-35%","e":-2.7,"v":52},{"c":"25-35%","e":-2.5,"v":60},{"c":"25-35%","e":-2.3,"v":69},{"c":"25-35%","e":-2.1,"v":80},{"c":"25-35%","e":-1.9,"v":89},{"c":"25-35%","e":-1.7,"v":99},{"c":"25-35%","e":-1.5,"v":107},{"c":"25-35%","e":-1.3,"v":114},{"c":"25-35%","e":-1.1,"v":120},{"c":"25-35%","e":-0.9,"v":125},{"c":"25-35%","e":-0.7,"v":127},{"c":"25-35%","e":-0.5,"v":129},{"c":"25-35%","e":-0.3,"v":128},{"c":"25-35%","e":-0.1,"v":127},{"c":"25-35%","e":0.1,"v":129},{"c":"25-35%","e":0.3,"v":127},{"c":"25-35%","e":0.5,"v":127},{"c":"25-35%","e":0.7,"v":127},{"c":"25-35%","e":0.9,"v":126},{"c":"25-35%","e":1.1,"v":119},{"c":"25-35%","e":1.3,"v":112},{"c":"25-35%","e":1.5,"v":105},{"c":"25-35%","e":1.7,"v":97},{"c":"25-35%","e":1.9,"v":87},{"c":"25-35%","e":2.1,"v":75},{"c":"25-35%","e":2.3,"v":66},{"c":"25-35%","e":2.5,"v":56},{"c":"25-35%","e":2.7,"v":48},{"c":"25-35%","e":2.9,"v":40},{"c":"25-35%","e":3.1,"v":36},{"c":"25-35%","e":3.3,"v":32},{"c":"25-35%","e":3.5,"v":30},{"c":"25-35%","e":3.7,"v":28},{"c":"25-35%","e":3.9,"v":27},{"c":"25-35%","e":4.1,"v":25},{"c":"25-35%","e":4.3,"v":23},{"c":"25-35%","e":4.5,"v":22},{"c":"25-35%","e":4.7,"v":20},{"c":"25-35%","e":4.9,"v":19},{"c":"25-35%","e":5.1,"v":18},{"c":"25-35%","e":5.3,"v":18},
{"c":"35-45%","e":-5.3,"v":22},{"c":"35-45%","e":-5.1,"v":23},{"c":"35-45%","e":-4.9,"v":23},{"c":"35-45%","e":-4.7,"v":24},{"c":"35-45%","e":-4.5,"v":23},{"c":"35-45%","e":-4.3,"v":24},{"c":"35-45%","e":-4.1,"v":25},{"c":"35-45%","e":-3.9,"v":26},{"c":"35-45%","e":-3.7,"v":27},{"c":"35-45%","e":-3.5,"v":27},{"c":"35-45%","e":-3.3,"v":32},{"c":"35-45%","e":-3.1,"v":35},{"c":"35-45%","e":-2.9,"v":39},{"c":"35-45%","e":-2.7,"v":43},{"c":"35-45%","e":-2.5,"v":48},{"c":"35-45%","e":-2.3,"v":51},{"c":"35-45%","e":-2.1,"v":57},{"c":"35-45%","e":-1.9,"v":62},{"c":"35-45%","e":-1.7,"v":66},{"c":"35-45%","e":-1.5,"v":70},{"c":"35-45%","e":-1.3,"v":74},{"c":"35-45%","e":-1.1,"v":78},{"c":"35-45%","e":-0.9,"v":79},{"c":"35-45%","e":-0.7,"v":80},{"c":"35-45%","e":-0.5,"v":81},{"c":"35-45%","e":-0.3,"v":80},{"c":"35-45%","e":-0.1,"v":81},{"c":"35-45%","e":0.1,"v":80},{"c":"35-45%","e":0.3,"v":81},{"c":"35-45%","e":0.5,"v":80},{"c":"35-45%","e":0.7,"v":79},{"c":"35-45%","e":0.9,"v":78},{"c":"35-45%","e":1.1,"v":76},{"c":"35-45%","e":1.3,"v":72},{"c":"35-45%","e":1.5,"v":69},{"c":"35-45%","e":1.7,"v":65},{"c":"35-45%","e":1.9,"v":60},{"c":"35-45%","e":2.1,"v":56},{"c":"35-45%","e":2.3,"v":50},{"c":"35-45%","e":2.5,"v":46},{"c":"35-45%","e":2.7,"v":40},{"c":"35-45%","e":2.9,"v":34},{"c":"35-45%","e":3.1,"v":32},{"c":"35-45%","e":3.3,"v":30},{"c":"35-45%","e":3.5,"v":28},{"c":"35-45%","e":3.7,"v":26},{"c":"35-45%","e":3.9,"v":25},{"c":"35-45%","e":4.1,"v":24},{"c":"35-45%","e":4.3,"v":24},{"c":"35-45%","e":4.5,"v":23},{"c":"35-45%","e":4.7,"v":23},{"c":"35-45%","e":4.9,"v":22},{"c":"35-45%","e":5.1,"v":22},{"c":"35-45%","e":5.3,"v":22}
],
"b200":[
{"c":"0- 6%","e":-5.5,"lo":45,"hi":95},{"c":"0- 6%","e":-5,"lo":72,"hi":154},{"c":"0- 6%","e":-4.5,"lo":126,"hi":259},{"c":"0- 6%","e":-4,"lo":211,"hi":378},{"c":"0- 6%","e":-3.5,"lo":308,"hi":484},{"c":"0- 6%","e":-3,"lo":400,"hi":600},{"c":"0- 6%","e":-2.5,"lo":493,"hi":668},{"c":"0- 6%","e":-2,"lo":549,"hi":705},{"c":"0- 6%","e":-1.5,"lo":586,"hi":716},{"c":"0- 6%","e":-1,"lo":586,"hi":710},{"c":"0- 6%","e":-0.5,"lo":580,"hi":702},{"c":"0- 6%","e":0,"lo":578,"hi":698},{"c":"0- 6%","e":0.5,"lo":580,"hi":702},{"c":"0- 6%","e":1,"lo":586,"hi":710},{"c":"0- 6%","e":1.5,"lo":586,"hi":716},{"c":"0- 6%","e":2,"lo":549,"hi":705},{"c":"0- 6%","e":2.5,"lo":493,"hi":668},{"c":"0- 6%","e":3,"lo":400,"hi":600},{"c":"0- 6%","e":3.5,"lo":308,"hi":484},{"c":"0- 6%","e":4,"lo":211,"hi":378},{"c":"0- 6%","e":4.5,"lo":126,"hi":259},{"c":"0- 6%","e":5,"lo":72,"hi":154},{"c":"0- 6%","e":5.5,"lo":45,"hi":95},
{"c":"15-25%","e":-5.5,"lo":38,"hi":69},{"c":"15-25%","e":-5,"lo":54,"hi":112},{"c":"15-25%","e":-4.5,"lo":88,"hi":166},{"c":"15-25%","e":-4,"lo":130,"hi":231},{"c":"15-25%","e":-3.5,"lo":181,"hi":286},{"c":"15-25%","e":-3,"lo":224,"hi":343},{"c":"15-25%","e":-2.5,"lo":269,"hi":367},{"c":"15-25%","e":-2,"lo":288,"hi":384},{"c":"15-25%","e":-1.5,"lo":301,"hi":386},{"c":"15-25%","e":-1,"lo":303,"hi":385},{"c":"15-25%","e":-0.5,"lo":301,"hi":384},{"c":"15-25%","e":0,"lo":300,"hi":382},{"c":"15-25%","e":0.5,"lo":301,"hi":384},{"c":"15-25%","e":1,"lo":303,"hi":385},{"c":"15-25%","e":1.5,"lo":301,"hi":386},{"c":"15-25%","e":2,"lo":288,"hi":384},{"c":"15-25%","e":2.5,"lo":269,"hi":367},{"c":"15-25%","e":3,"lo":224,"hi":343},{"c":"15-25%","e":3.5,"lo":181,"hi":286},{"c":"15-25%","e":4,"lo":130,"hi":231},{"c":"15-25%","e":4.5,"lo":88,"hi":166},{"c":"15-25%","e":5,"lo":54,"hi":112},{"c":"15-25%","e":5.5,"lo":38,"hi":69},
{"c":"35-45%","e":-5.5,"lo":20,"hi":38},{"c":"35-45%","e":-5,"lo":29,"hi":57},{"c":"35-45%","e":-4.5,"lo":43,"hi":82},{"c":"35-45%","e":-4,"lo":62,"hi":109},{"c":"35-45%","e":-3.5,"lo":82,"hi":131},{"c":"35-45%","e":-3,"lo":99,"hi":151},{"c":"35-45%","e":-2.5,"lo":114,"hi":164},{"c":"35-45%","e":-2,"lo":124,"hi":172},{"c":"35-45%","e":-1.5,"lo":130,"hi":174},{"c":"35-45%","e":-1,"lo":132,"hi":174},{"c":"35-45%","e":-0.5,"lo":132,"hi":174},{"c":"35-45%","e":0,"lo":132,"hi":174},{"c":"35-45%","e":0.5,"lo":132,"hi":174},{"c":"35-45%","e":1,"lo":132,"hi":174},{"c":"35-45%","e":1.5,"lo":130,"hi":174},{"c":"35-45%","e":2,"lo":124,"hi":172},{"c":"35-45%","e":2.5,"lo":114,"hi":164},{"c":"35-45%","e":3,"lo":99,"hi":151},{"c":"35-45%","e":3.5,"lo":82,"hi":131},{"c":"35-45%","e":4,"lo":62,"hi":109},{"c":"35-45%","e":4.5,"lo":43,"hi":82},{"c":"35-45%","e":5,"lo":29,"hi":57},{"c":"35-45%","e":5.5,"lo":20,"hi":38}
],
"b130":[
{"c":"0- 6%","e":-5.5,"lo":22,"hi":52},{"c":"0- 6%","e":-5,"lo":37,"hi":94},{"c":"0- 6%","e":-4.5,"lo":76,"hi":172},{"c":"0- 6%","e":-4,"lo":139,"hi":282},{"c":"0- 6%","e":-3.5,"lo":227,"hi":392},{"c":"0- 6%","e":-3,"lo":316,"hi":497},{"c":"0- 6%","e":-2.5,"lo":401,"hi":575},{"c":"0- 6%","e":-2,"lo":463,"hi":613},{"c":"0- 6%","e":-1.5,"lo":494,"hi":632},{"c":"0- 6%","e":-1,"lo":509,"hi":632},{"c":"0- 6%","e":-0.5,"lo":508,"hi":630},{"c":"0- 6%","e":0,"lo":506,"hi":630},{"c":"0- 6%","e":0.5,"lo":508,"hi":630},{"c":"0- 6%","e":1,"lo":509,"hi":632},{"c":"0- 6%","e":1.5,"lo":494,"hi":632},{"c":"0- 6%","e":2,"lo":463,"hi":613},{"c":"0- 6%","e":2.5,"lo":401,"hi":575},{"c":"0- 6%","e":3,"lo":316,"hi":497},{"c":"0- 6%","e":3.5,"lo":227,"hi":392},{"c":"0- 6%","e":4,"lo":139,"hi":282},{"c":"0- 6%","e":4.5,"lo":76,"hi":172},{"c":"0- 6%","e":5,"lo":37,"hi":94},{"c":"0- 6%","e":5.5,"lo":22,"hi":52},
{"c":"15-25%","e":-5.5,"lo":29,"hi":47},{"c":"15-25%","e":-5,"lo":38,"hi":75},{"c":"15-25%","e":-4.5,"lo":61,"hi":117},{"c":"15-25%","e":-4,"lo":95,"hi":178},{"c":"15-25%","e":-3.5,"lo":145,"hi":234},{"c":"15-25%","e":-3,"lo":190,"hi":284},{"c":"15-25%","e":-2.5,"lo":231,"hi":318},{"c":"15-25%","e":-2,"lo":258,"hi":335},{"c":"15-25%","e":-1.5,"lo":272,"hi":338},{"c":"15-25%","e":-1,"lo":274,"hi":339},{"c":"15-25%","e":-0.5,"lo":274,"hi":338},{"c":"15-25%","e":0,"lo":274,"hi":338},{"c":"15-25%","e":0.5,"lo":274,"hi":338},{"c":"15-25%","e":1,"lo":274,"hi":339},{"c":"15-25%","e":1.5,"lo":272,"hi":338},{"c":"15-25%","e":2,"lo":258,"hi":335},{"c":"15-25%","e":2.5,"lo":231,"hi":318},{"c":"15-25%","e":3,"lo":190,"hi":284},{"c":"15-25%","e":3.5,"lo":145,"hi":234},{"c":"15-25%","e":4,"lo":95,"hi":178},{"c":"15-25%","e":4.5,"lo":61,"hi":117},{"c":"15-25%","e":5,"lo":38,"hi":75},{"c":"15-25%","e":5.5,"lo":29,"hi":47},
{"c":"35-45%","e":-5.5,"lo":18,"hi":30},{"c":"35-45%","e":-5,"lo":24,"hi":44},{"c":"35-45%","e":-4.5,"lo":35,"hi":64},{"c":"35-45%","e":-4,"lo":50,"hi":89},{"c":"35-45%","e":-3.5,"lo":70,"hi":107},{"c":"35-45%","e":-3,"lo":84,"hi":125},{"c":"35-45%","e":-2.5,"lo":98,"hi":137},{"c":"35-45%","e":-2,"lo":107,"hi":142},{"c":"35-45%","e":-1.5,"lo":111,"hi":143},{"c":"35-45%","e":-1,"lo":112,"hi":143},{"c":"35-45%","e":-0.5,"lo":112,"hi":143},{"c":"35-45%","e":0,"lo":112,"hi":143},{"c":"35-45%","e":0.5,"lo":112,"hi":143},{"c":"35-45%","e":1,"lo":112,"hi":143},{"c":"35-45%","e":1.5,"lo":111,"hi":143},{"c":"35-45%","e":2,"lo":107,"hi":142},{"c":"35-45%","e":2.5,"lo":98,"hi":137},{"c":"35-45%","e":3,"lo":84,"hi":125},{"c":"35-45%","e":3.5,"lo":70,"hi":107},{"c":"35-45%","e":4,"lo":50,"hi":89},{"c":"35-45%","e":4.5,"lo":35,"hi":64},{"c":"35-45%","e":5,"lo":24,"hi":44},{"c":"35-45%","e":5.5,"lo":18,"hi":30}
],
"b196":[
{"c":"0- 6%","e":-5.5,"lo":10,"hi":32},{"c":"0- 6%","e":-5,"lo":10,"hi":32},{"c":"0- 6%","e":-4.5,"lo":12,"hi":33},{"c":"0- 6%","e":-4,"lo":18,"hi":40},{"c":"0- 6%","e":-3.5,"lo":32,"hi":67},{"c":"0- 6%","e":-3,"lo":55,"hi":119},{"c":"0- 6%","e":-2.5,"lo":97,"hi":200},{"c":"0- 6%","e":-2,"lo":164,"hi":285},{"c":"0- 6%","e":-1.5,"lo":233,"hi":343},{"c":"0- 6%","e":-1,"lo":281,"hi":375},{"c":"0- 6%","e":-0.5,"lo":307,"hi":384},{"c":"0- 6%","e":0,"lo":314,"hi":386},{"c":"0- 6%","e":0.5,"lo":307,"hi":384},{"c":"0- 6%","e":1,"lo":281,"hi":375},{"c":"0- 6%","e":1.5,"lo":233,"hi":343},{"c":"0- 6%","e":2,"lo":164,"hi":285},{"c":"0- 6%","e":2.5,"lo":97,"hi":200},{"c":"0- 6%","e":3,"lo":55,"hi":119},{"c":"0- 6%","e":3.5,"lo":32,"hi":67},{"c":"0- 6%","e":4,"lo":18,"hi":40},{"c":"0- 6%","e":4.5,"lo":12,"hi":33},{"c":"0- 6%","e":5,"lo":10,"hi":32},{"c":"0- 6%","e":5.5,"lo":10,"hi":32},
{"c":"15-25%","e":-5.5,"lo":10,"hi":31},{"c":"15-25%","e":-5,"lo":10,"hi":31},{"c":"15-25%","e":-4.5,"lo":12,"hi":32},{"c":"15-25%","e":-4,"lo":18,"hi":34},{"c":"15-25%","e":-3.5,"lo":29,"hi":50},{"c":"15-25%","e":-3,"lo":41,"hi":81},{"c":"15-25%","e":-2.5,"lo":68,"hi":121},{"c":"15-25%","e":-2,"lo":101,"hi":165},{"c":"15-25%","e":-1.5,"lo":138,"hi":191},{"c":"15-25%","e":-1,"lo":160,"hi":206},{"c":"15-25%","e":-0.5,"lo":172,"hi":207},{"c":"15-25%","e":0,"lo":173,"hi":208},{"c":"15-25%","e":0.5,"lo":172,"hi":207},{"c":"15-25%","e":1,"lo":160,"hi":206},{"c":"15-25%","e":1.5,"lo":138,"hi":191},{"c":"15-25%","e":2,"lo":101,"hi":165},{"c":"15-25%","e":2.5,"lo":68,"hi":121},{"c":"15-25%","e":3,"lo":41,"hi":81},{"c":"15-25%","e":3.5,"lo":29,"hi":50},{"c":"15-25%","e":4,"lo":18,"hi":34},{"c":"15-25%","e":4.5,"lo":12,"hi":32},{"c":"15-25%","e":5,"lo":10,"hi":31},{"c":"15-25%","e":5.5,"lo":10,"hi":31},
{"c":"35-45%","e":-5.5,"lo":10,"hi":31},{"c":"35-45%","e":-5,"lo":10,"hi":31},{"c":"35-45%","e":-4.5,"lo":12,"hi":32},{"c":"35-45%","e":-4,"lo":16,"hi":33},{"c":"35-45%","e":-3.5,"lo":21,"hi":37},{"c":"35-45%","e":-3,"lo":28,"hi":46},{"c":"35-45%","e":-2.5,"lo":36,"hi":58},{"c":"35-45%","e":-2,"lo":45,"hi":73},{"c":"35-45%","e":-1.5,"lo":55,"hi":81},{"c":"35-45%","e":-1,"lo":62,"hi":87},{"c":"35-45%","e":-0.5,"lo":66,"hi":89},{"c":"35-45%","e":0,"lo":67,"hi":90},{"c":"35-45%","e":0.5,"lo":66,"hi":89},{"c":"35-45%","e":1,"lo":62,"hi":87},{"c":"35-45%","e":1.5,"lo":55,"hi":81},{"c":"35-45%","e":2,"lo":45,"hi":73},{"c":"35-45%","e":2.5,"lo":36,"hi":58},{"c":"35-45%","e":3,"lo":28,"hi":46},{"c":"35-45%","e":3.5,"lo":21,"hi":37},{"c":"35-45%","e":4,"lo":16,"hi":33},{"c":"35-45%","e":4.5,"lo":12,"hi":32},{"c":"35-45%","e":5,"lo":10,"hi":31},{"c":"35-45%","e":5.5,"lo":10,"hi":31}
],
"t200":[{"e":0.09,"v":827,"t":"Au+Au 200 GeV"}],
"t130":[{"e":0.09,"v":654,"t":"Au+Au 130 GeV"}],
"t196":[{"e":0.24,"v":400,"t":"Au+Au\u00a0 19.6 GeV"}]
},
"spacing":0,
"bounds":"flush",
"resolve":{"scale":{"x":"independent","y":"independent","shape":"independent","fill":"independent","stroke":"independent"},"legend":{"shape":"independent","fill":"independent","stroke":"independent"}},
"vconcat":[
{
"width":408,"height":333,
"resolve":{"axis":{"x":"independent","y":"independent"}},
"layer":[
{"data":{"name":"b200"},
"mark":{"type":"area","color":"#c8c8c8","interpolate":"monotone","clip":true},
"encoding":{
"x":{"field":"e","type":"quantitative","scale":{"domain":[-5.5,5.38],"nice":false,"zero":false},
"axis":{"orient":"bottom","values":[-5,-4,-3,-2,-1,0,1,2,3,4,5],"labels":false,"title":null,"grid":false,"domainColor":"black","domainWidth":2,"tickColor":"black","tickWidth":1.5,"tickSize":{"condition":{"test":"datum.value % 5 === 0","value":-15},"value":-5}}},
"y":{"field":"lo","type":"quantitative","scale":{"domain":[0,925],"nice":false},
"axis":{"orient":"left","values":[0,50,100,150,200,250,300,350,400,450,500,550,600,650,700,750,800,850,900],"grid":false,"title":"dNch/dη","titleFont":"Liberation Sans","titleFontSize":21,"titleFontWeight":"bold","titleColor":"black","titleX":-53,"titleY":143,"titleAngle":-90,"titleAlign":"center","titleBaseline":"middle","labelExpr":"datum.value % 200 === 0 && datum.value > 0 ? datum.label : ''","labelFont":"Liberation Sans","labelFontSize":17,"labelFontWeight":"bold","labelColor":"black","labelPadding":20,"labelOverlap":false,"labelFlush":false,"domainColor":"black","domainWidth":2,"tickColor":"black","tickWidth":1.5,"tickSize":{"condition":{"test":"datum.value % 200 === 0","value":-15},"value":-7}}},
"y2":{"field":"hi"},
"detail":{"field":"c"}}},
{"data":{"name":"d200"},
"mark":{"type":"point","filled":true,"strokeWidth":1.2,"opacity":1,"size":70},
"encoding":{
"x":{"field":"e","type":"quantitative","scale":{"domain":[-5.5,5.38],"nice":false,"zero":false},
"axis":{"orient":"top","values":[-5,-4,-3,-2,-1,0,1,2,3,4,5],"labels":false,"title":null,"grid":false,"domainColor":"black","domainWidth":2,"tickColor":"black","tickWidth":1.5,"tickSize":{"condition":{"test":"datum.value % 5 === 0","value":-7},"value":-3}}},
"y":{"field":"v","type":"quantitative","scale":{"domain":[0,925],"nice":false},
"axis":{"orient":"right","values":[0,50,100,150,200,250,300,350,400,450,500,550,600,650,700,750,800,850,900],"labels":false,"title":null,"grid":false,"domain":false,"tickColor":"black","tickWidth":1.5,"tickSize":{"condition":{"test":"datum.value % 200 === 0","value":-10},"value":-3}}},
"shape":{"field":"c","type":"nominal","scale":{"domain":["0- 6%","6-15%","15-25%","25-35%","35-45%","45-55%"],"range":["circle","circle","square","square","M0,-1L0.6,0L0,1L-0.6,0Z","cross"]},
"legend":{"orient":"none","legendX":12,"legendY":19,"columns":2,"columnPadding":214,"rowPadding":10,"title":null,"padding":0,"labelFont":"Liberation Sans","labelFontSize":18,"labelColor":"black","labelOffset":6,"symbolSize":70,"symbolStrokeWidth":1.2}},
"fill":{"field":"c","type":"nominal","scale":{"domain":["0- 6%","6-15%","15-25%","25-35%","35-45%","45-55%"],"range":["black","white","black","white","white","white"]},
"legend":{"orient":"none","legendX":12,"legendY":19,"columns":2,"columnPadding":214,"rowPadding":10,"title":null,"padding":0,"labelFont":"Liberation Sans","labelFontSize":18,"labelColor":"black","labelOffset":6,"symbolSize":70,"symbolStrokeWidth":1.2}},
"stroke":{"field":"c","type":"nominal","scale":{"domain":["0- 6%","6-15%","15-25%","25-35%","35-45%","45-55%"],"range":["black","black","black","black","black","black"]},
"legend":{"orient":"none","legendX":12,"legendY":19,"columns":2,"columnPadding":214,"rowPadding":10,"title":null,"padding":0,"labelFont":"Liberation Sans","labelFontSize":18,"labelColor":"black","labelOffset":6,"symbolSize":70,"symbolStrokeWidth":1.2}}}},
{"data":{"name":"t200"},
"mark":{"type":"text","font":"Liberation Sans","fontSize":22,"fontWeight":"bold","align":"center","baseline":"alphabetic","color":"black"},
"encoding":{"x":{"field":"e","type":"quantitative","axis":null,"scale":{"domain":[-5.5,5.38],"nice":false,"zero":false}},"y":{"field":"v","type":"quantitative","axis":null,"scale":{"domain":[0,925],"nice":false}},"text":{"field":"t"}}}
]
},
{
"width":408,"height":288,
"resolve":{"axis":{"x":"independent","y":"independent"}},
"layer":[
{"data":{"name":"b130"},
"mark":{"type":"area","color":"#c8c8c8","interpolate":"monotone","clip":true},
"encoding":{
"x":{"field":"e","type":"quantitative","scale":{"domain":[-5.5,5.38],"nice":false,"zero":false},
"axis":{"orient":"bottom","values":[-5,-4,-3,-2,-1,0,1,2,3,4,5],"labels":false,"title":null,"grid":false,"domainColor":"black","domainWidth":2,"tickColor":"black","tickWidth":1.5,"tickSize":{"condition":{"test":"datum.value % 5 === 0","value":-8},"value":-6}}},
"y":{"field":"lo","type":"quantitative","scale":{"domain":[0,738],"nice":false},
"axis":{"orient":"left","values":[0,50,100,150,200,250,300,350,400,450,500,550,600,650,700],"grid":false,"title":"dNch/dη","titleFont":"Liberation Sans","titleFontSize":21,"titleFontWeight":"bold","titleColor":"black","titleX":-53,"titleY":143,"titleAngle":-90,"titleAlign":"center","titleBaseline":"middle","labelExpr":"datum.value % 200 === 0 && datum.value > 0 ? datum.label : ''","labelFont":"Liberation Sans","labelFontSize":17,"labelFontWeight":"bold","labelColor":"black","labelPadding":20,"labelOverlap":false,"labelFlush":false,"domainColor":"black","domainWidth":2,"tickColor":"black","tickWidth":1.5,"tickSize":{"condition":{"test":"datum.value % 200 === 0","value":-15},"value":-7}}},
"y2":{"field":"hi"},
"detail":{"field":"c"}}},
{"data":{"name":"d130"},
"mark":{"type":"point","filled":true,"stroke":"black","strokeWidth":1.2,"opacity":1,"size":70},
"encoding":{
"x":{"field":"e","type":"quantitative","scale":{"domain":[-5.5,5.38],"nice":false,"zero":false},
"axis":{"orient":"top","values":[-5,-4,-3,-2,-1,0,1,2,3,4,5],"labels":false,"title":null,"grid":false,"domainColor":"black","domainWidth":2,"tickColor":"black","tickWidth":1.5,"tickSize":{"condition":{"test":"datum.value % 5 === 0","value":-8},"value":-4}}},
"y":{"field":"v","type":"quantitative","scale":{"domain":[0,738],"nice":false},
"axis":{"orient":"right","values":[0,50,100,150,200,250,300,350,400,450,500,550,600,650,700],"labels":false,"title":null,"grid":false,"domain":false,"tickColor":"black","tickWidth":1.5,"tickSize":{"condition":{"test":"datum.value % 200 === 0","value":-10},"value":-3}}},
"shape":{"field":"c","type":"nominal","scale":{"domain":["0- 6%","6-15%","15-25%","25-35%","35-45%","45-55%"],"range":["circle","circle","square","square","M0,-1L0.6,0L0,1L-0.6,0Z","cross"]},"legend":null},
"fill":{"field":"c","type":"nominal","scale":{"domain":["0- 6%","6-15%","15-25%","25-35%","35-45%","45-55%"],"range":["black","white","black","white","white","white"]},"legend":null}}},
{"data":{"name":"t130"},
"mark":{"type":"text","font":"Liberation Sans","fontSize":22,"fontWeight":"bold","align":"center","baseline":"alphabetic","color":"black"},
"encoding":{"x":{"field":"e","type":"quantitative","axis":null,"scale":{"domain":[-5.5,5.38],"nice":false,"zero":false}},"y":{"field":"v","type":"quantitative","axis":null,"scale":{"domain":[0,738],"nice":false}},"text":{"field":"t"}}}
]
},
{
"width":408,"height":288,
"resolve":{"axis":{"x":"independent","y":"independent"}},
"layer":[
{"data":{"name":"b196"},
"mark":{"type":"area","color":"#c8c8c8","interpolate":"monotone","clip":true},
"encoding":{
"x":{"field":"e","type":"quantitative","scale":{"domain":[-5.5,5.38],"nice":false,"zero":false},
"axis":{"orient":"bottom","values":[-5,-4,-3,-2,-1,0,1,2,3,4,5],"labelExpr":"datum.value % 5 === 0 ? '' + datum.value : ''","labelFont":"Liberation Sans","labelFontSize":17,"labelFontWeight":"bold","labelColor":"black","labelPadding":16,"labelOverlap":false,"labelFlush":false,"title":"η","titleFont":"Liberation Serif","titleFontSize":24,"titleFontWeight":"normal","titleColor":"black","titleX":218,"titleY":25,"titleBaseline":"alphabetic","grid":false,"domainColor":"black","domainWidth":2,"tickColor":"black","tickWidth":1.5,"tickSize":{"condition":{"test":"datum.value % 5 === 0","value":-12},"value":-6}}},
"y":{"field":"lo","type":"quantitative","scale":{"domain":[0,450],"nice":false},
"axis":{"orient":"left","values":[0,20,40,60,80,100,120,140,160,180,200,220,240,260,280,300,320,340,360,380,400,420,440],"grid":false,"title":"dNch/dη","titleFont":"Liberation Sans","titleFontSize":21,"titleFontWeight":"bold","titleColor":"black","titleX":-53,"titleY":146,"titleAngle":-90,"titleAlign":"center","titleBaseline":"middle","labelExpr":"datum.value % 100 === 0 ? datum.label : ''","labelFont":"Liberation Sans","labelFontSize":17,"labelFontWeight":"bold","labelColor":"black","labelPadding":20,"labelOverlap":false,"labelFlush":false,"domainColor":"black","domainWidth":2,"tickColor":"black","tickWidth":1.5,"tickSize":{"condition":{"test":"datum.value % 100 === 0","value":-15},"value":-7}}},
"y2":{"field":"hi"},
"detail":{"field":"c"}}},
{"data":{"name":"d196"},
"mark":{"type":"point","filled":true,"stroke":"black","strokeWidth":1.2,"opacity":1,"size":70},
"encoding":{
"x":{"field":"e","type":"quantitative","scale":{"domain":[-5.5,5.38],"nice":false,"zero":false},
"axis":{"orient":"top","values":[-5,-4,-3,-2,-1,0,1,2,3,4,5],"labels":false,"title":null,"grid":false,"domainColor":"black","domainWidth":2,"tickColor":"black","tickWidth":1.5,"tickSize":{"condition":{"test":"datum.value % 5 === 0","value":-8},"value":-4}}},
"y":{"field":"v","type":"quantitative","scale":{"domain":[0,450],"nice":false},
"axis":{"orient":"right","values":[0,20,40,60,80,100,120,140,160,180,200,220,240,260,280,300,320,340,360,380,400,420,440],"labels":false,"title":null,"grid":false,"domain":false,"tickColor":"black","tickWidth":1.5,"tickSize":{"condition":{"test":"datum.value % 100 === 0","value":-10},"value":-3}}},
"shape":{"field":"c","type":"nominal","scale":{"domain":["0- 6%","6-15%","15-25%","25-35%","35-45%","45-55%"],"range":["circle","circle","square","square","M0,-1L0.6,0L0,1L-0.6,0Z","cross"]},"legend":null},
"fill":{"field":"c","type":"nominal","scale":{"domain":["0- 6%","6-15%","15-25%","25-35%","35-45%","45-55%"],"range":["black","white","black","white","white","white"]},"legend":null}}},
{"data":{"name":"t196"},
"mark":{"type":"text","font":"Liberation Sans","fontSize":22,"fontWeight":"bold","align":"center","baseline":"alphabetic","color":"black"},
"encoding":{"x":{"field":"e","type":"quantitative","axis":null,"scale":{"domain":[-5.5,5.38],"nice":false,"zero":false}},"y":{"field":"v","type":"quantitative","axis":null,"scale":{"domain":[0,450],"nice":false}},"text":{"field":"t"}}}
]
}
]
}
